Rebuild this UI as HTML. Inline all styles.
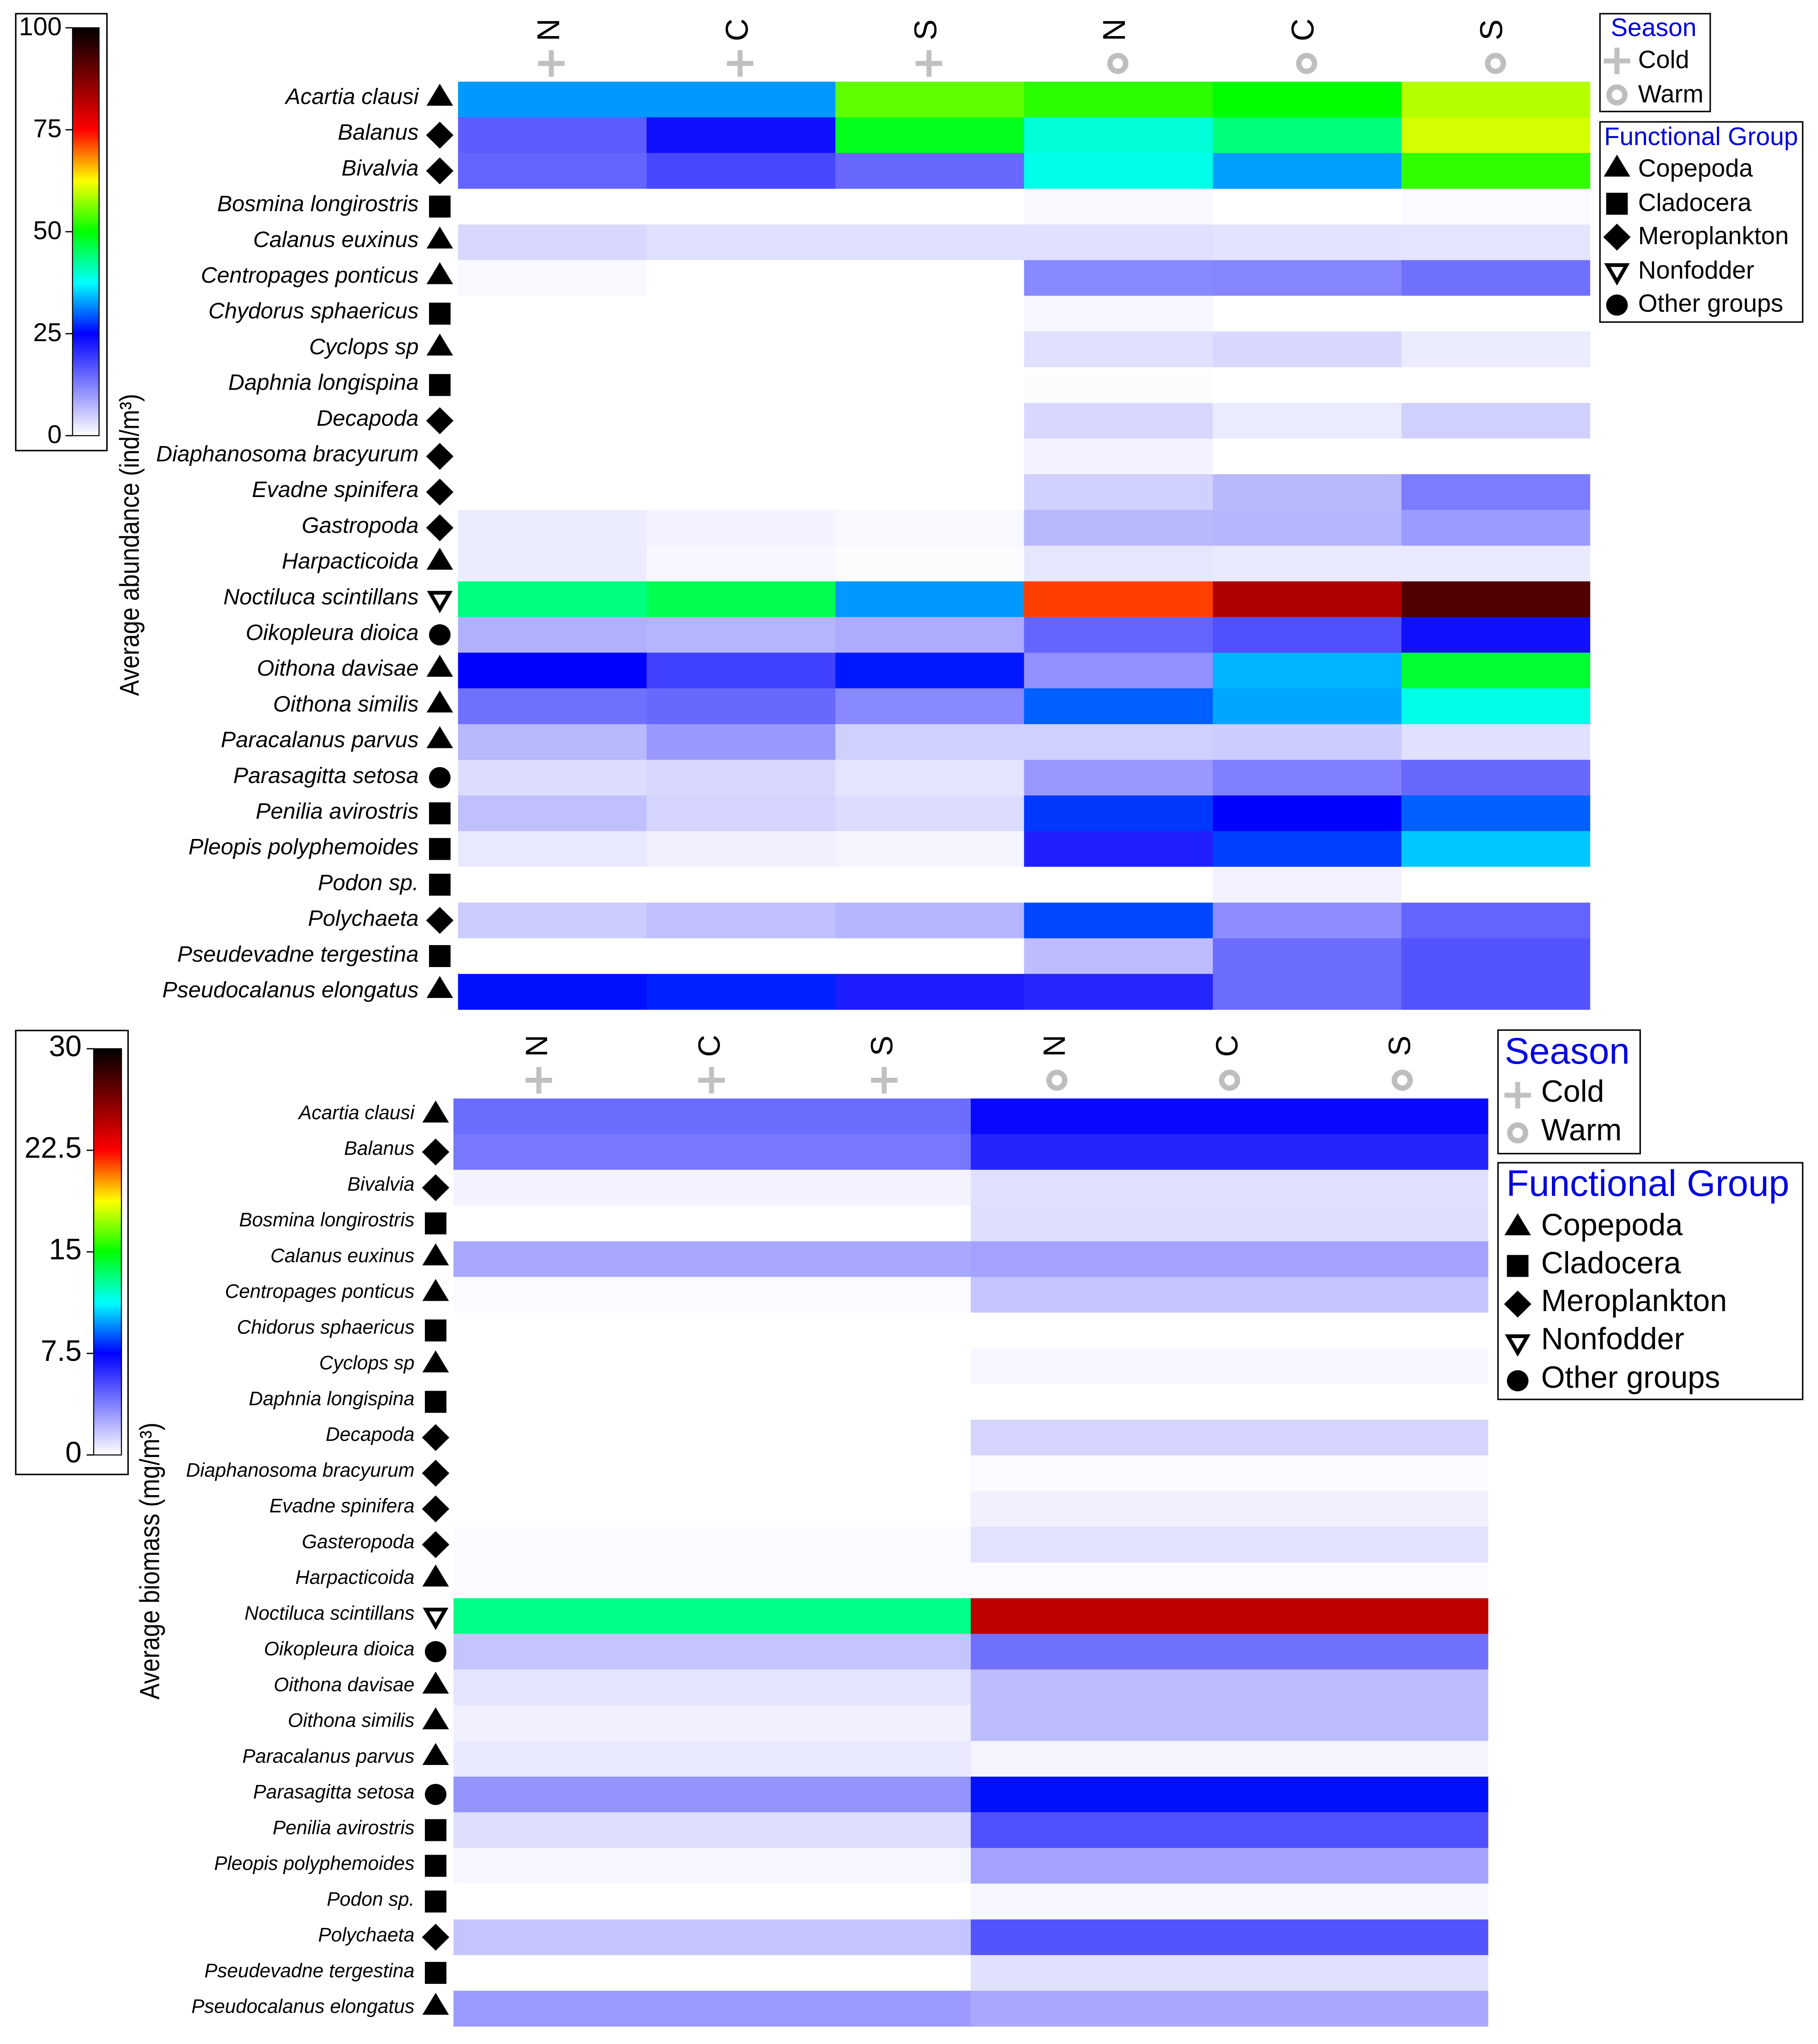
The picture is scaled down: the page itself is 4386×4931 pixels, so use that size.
<!DOCTYPE html>
<html lang="en">
<head>
<meta charset="utf-8">
<title>Zooplankton abundance and biomass heatmaps</title>
<style>
html,body{margin:0;padding:0;background:#fff;}
svg{display:block;font-family:"Liberation Sans",Arial,sans-serif;}
</style>
</head>
<body>
<svg id="figure" xmlns="http://www.w3.org/2000/svg" width="4386" height="4931" viewBox="0 0 4386 4931">
<rect x="0" y="0" width="4386" height="4931" fill="#fff"/>
</svg>
<script>
// ---------- categories ----------
var abundanceSpecies = ["Acartia clausi","Balanus","Bivalvia","Bosmina longirostris","Calanus euxinus","Centropages ponticus","Chydorus sphaericus","Cyclops sp","Daphnia longispina","Decapoda","Diaphanosoma bracyurum","Evadne spinifera","Gastropoda","Harpacticoida","Noctiluca scintillans","Oikopleura dioica","Oithona davisae","Oithona similis","Paracalanus parvus","Parasagitta setosa","Penilia avirostris","Pleopis polyphemoides","Podon sp.","Polychaeta","Pseudevadne tergestina","Pseudocalanus elongatus"];
var biomassSpecies = ["Acartia clausi","Balanus","Bivalvia","Bosmina longirostris","Calanus euxinus","Centropages ponticus","Chidorus sphaericus","Cyclops sp","Daphnia longispina","Decapoda","Diaphanosoma bracyurum","Evadne spinifera","Gasteropoda","Harpacticoida","Noctiluca scintillans","Oikopleura dioica","Oithona davisae","Oithona similis","Paracalanus parvus","Parasagitta setosa","Penilia avirostris","Pleopis polyphemoides","Podon sp.","Polychaeta","Pseudevadne tergestina","Pseudocalanus elongatus"];
var speciesGroups = ["triangle","diamond","diamond","square","triangle","triangle","square","triangle","square","diamond","diamond","diamond","diamond","triangle","nonfodder","circle","triangle","triangle","triangle","circle","square","square","square","diamond","square","triangle"];
var regionLabels = ["N","C","S","N","C","S"];
var seasonMarkers = ["plus","plus","plus","ring","ring","ring"];

// ---------- abundance series (ind/m3), one array per column ----------
var abundanceColdN = [32.5,16,15.2,0,3.8,0.7,0,0,0,0,0,0,1.9,1.9,43.8,7.7,25,14,7,3.4,6.2,2.3,0,5,0,25.8];
var abundanceColdC = [32.5,23.4,17.9,0,3,0,0,0,0,0,0,0,1.2,0.8,46.1,7.4,18.7,14.8,10.1,3.8,4.2,1.5,0,6.2,0,26.6];
var abundanceColdS = [54.7,48.7,14.8,0,3,0,0,0,0,0,0,0,0.7,0.3,32.5,8.1,26.2,11.7,4.6,2.6,3.4,1.1,0,7.4,0,22.3];
var abundanceWarmN = [52,39.4,38.6,0.7,3,11.7,0.8,3,0.3,3.8,1.2,4.6,7,2.5,71.9,15.2,10.9,29.7,4.6,10.1,27.7,21.9,0,28.5,6.6,21.3];
var abundanceWarmC = [50,44.1,32.8,0,2.7,12,0,3.8,0,2,0,7,7.2,2.1,82.7,17.2,33.8,33.2,5,12.5,25,28.1,1.2,11.3,14.4,14.4];
var abundanceWarmS = [58.8,60.4,52.4,0.4,2.6,14,0,1.9,0,4.6,0,12.8,9.8,2.1,92.2,23.4,47.6,38.6,3,14.8,29.7,34.8,0,15.2,16.8,16.8];

// ---------- biomass series (mg/m3), one array per season ----------
var biomassCold = [4.32,3.96,0.36,0,2.55,0.12,0,0,0,0,0,0,0.12,0.12,13,1.74,0.78,0.45,0.63,3.15,0.96,0.27,0,1.74,0,2.94];
var biomassWarm = [7.26,6.44,0.9,0.96,2.7,1.74,0,0.24,0,1.26,0.12,0.45,0.84,0.12,24.4,4.2,1.98,1.98,0.33,7.74,5.16,2.7,0.27,5.04,0.9,2.55];

// ---------- colour scale ticks ----------
var abundanceTicks = [0,25,50,75,100];
var abundanceTickLabels = ["0","25","50","75","100"];
var biomassTicks = [0,7.5,15,22.5,30];
var biomassTickLabels = ["0","7.5","15","22.5","30"];

// ---------- colour map and legends ----------
var cmapStops = [0,0.25,0.375,0.5,0.625,0.75,1];
var cmapRed = [255,0,0,0,255,255,0];
var cmapGreen = [255,0,255,255,255,0,0];
var cmapBlue = [255,255,255,0,0,0,0];
var seasonLegendNames = ["Cold","Warm"];
var seasonLegendSymbols = ["plus","ring"];
var groupLegendNames = ["Copepoda","Cladocera","Meroplankton","Nonfodder","Other groups"];
var groupLegendSymbols = ["triangle","square","diamond","nonfodder","circle"];

var svg = document.getElementById("figure");
var NS = "http://www.w3.org/2000/svg";

function el(tag, attrs, parent) {
  var e = document.createElementNS(NS, tag);
  for (var k in attrs) { e.setAttribute(k, attrs[k]); }
  (parent || svg).appendChild(e);
  return e;
}

function colorFor(value, max) {
  var t = Math.max(0, Math.min(1, value / max));
  var i = 0;
  while (i < cmapStops.length - 2 && t > cmapStops[i + 1]) { i++; }
  var f = (t - cmapStops[i]) / (cmapStops[i + 1] - cmapStops[i]);
  var r = Math.round(cmapRed[i] + f * (cmapRed[i + 1] - cmapRed[i]));
  var g = Math.round(cmapGreen[i] + f * (cmapGreen[i + 1] - cmapGreen[i]));
  var b = Math.round(cmapBlue[i] + f * (cmapBlue[i + 1] - cmapBlue[i]));
  return "rgb(" + r + "," + g + "," + b + ")";
}

function drawMarker(type, cx, cy, parent) {
  var m;
  if (type === "triangle") {
    m = el("polygon", {points: cx + "," + (cy - 38) + " " + (cx - 32) + "," + (cy + 15) + " " + (cx + 32) + "," + (cy + 15), fill: "#000"}, parent);
  } else if (type === "square") {
    m = el("rect", {x: cx - 26, y: cy - 26.5, width: 52, height: 53, fill: "#000"}, parent);
  } else if (type === "diamond") {
    m = el("polygon", {points: cx + "," + (cy - 32.5) + " " + (cx + 33) + "," + cy + " " + cx + "," + (cy + 32.5) + " " + (cx - 33) + "," + cy, fill: "#000"}, parent);
  } else if (type === "nonfodder") {
    m = el("polygon", {points: (cx - 23.2) + "," + (cy - 15.5) + " " + (cx + 23.2) + "," + (cy - 15.5) + " " + cx + "," + (cy + 24.9), fill: "#fff", stroke: "#000", "stroke-width": 9}, parent);
  } else if (type === "circle") {
    m = el("ellipse", {cx: cx, cy: cy, rx: 26, ry: 25.5, fill: "#000"}, parent);
  } else if (type === "plus") {
    m = el("path", {d: "M" + (cx - 32) + " " + cy + "H" + (cx + 32) + "M" + cx + " " + (cy - 32) + "V" + (cy + 32), stroke: "#c0c0c0", "stroke-width": 12, fill: "none"}, parent);
  } else {
    m = el("circle", {cx: cx, cy: cy, r: 19, fill: "none", stroke: "#bebebe", "stroke-width": 13}, parent);
  }
  return m;
}

function drawChart(cfg) {
  var g = el("g", {});
  
  

  // axis functions
  function rowY(i) { return cfg.heatTop + i * cfg.rowH; }
  function colX(j) { return cfg.heatLeft + j * cfg.colW; }
  function barY(v) { return cfg.barBottom - (v / cfg.max) * (cfg.barBottom - cfg.barTop); }

  // colour scale box
  var box = el("rect", {x: cfg.boxX, y: cfg.boxY, width: cfg.boxW, height: cfg.boxH, fill: "#fff", stroke: "#000", "stroke-width": 3.5}, g);
  
  

  var defs = el("defs", {}, g);
  var grad = el("linearGradient", {id: cfg.name + "-grad", x1: 0, y1: 1, x2: 0, y2: 0}, defs);
  cmapStops.forEach(function (s) {
    el("stop", {offset: s, "stop-color": colorFor(s * cfg.max, cfg.max)}, grad);
  });

  var bar = el("rect", {x: cfg.barX, y: cfg.barTop, width: cfg.barW, height: cfg.barBottom - cfg.barTop, fill: "url(#" + cfg.name + "-grad)", stroke: "#000", "stroke-width": 2.5}, g);
  
  

  cfg.ticks.forEach(function (t, i) {
    var y = barY(t);
    var line = el("line", {x1: cfg.barX - 17, x2: cfg.barX, y1: y, y2: y, stroke: "#000", "stroke-width": 3}, g);
    
    
    var lab = el("text", {x: cfg.tickRight, y: y + 18, "font-size": cfg.tickFont, "text-anchor": "end", fill: "#000"}, g);
    
    
    lab.textContent = cfg.tickLabels[i];
  });

  // axis title
  var title = el("text", {transform: "translate(" + cfg.titleX + "," + cfg.titleY + ") rotate(-90) scale(1,1.15)", "font-size": cfg.titleFont, fill: "#000"}, g);
  
  
  title.textContent = cfg.title;

  // heatmap cells
  cfg.columns.forEach(function (column, j) {
    column.values.forEach(function (value, i) {
      var cell = el("rect", {x: colX(column.start), y: rowY(i), width: cfg.colW * column.span + 0.5, height: cfg.rowH + 0.5, fill: colorFor(value, cfg.max), "shape-rendering": "crispEdges"}, g);
      
      
    });
  });

  // species labels and group markers
  cfg.species.forEach(function (sp, i) {
    var lab = el("text", {x: cfg.labelRight, y: cfg.labelFirst + i * cfg.labelStep, "font-size": cfg.labelFont, "font-style": "italic", "text-anchor": "end", fill: "#000"}, g);
    
    
    lab.textContent = sp;
    var mk = drawMarker(speciesGroups[i], cfg.markerX, rowY(i) + cfg.rowH / 2, g);
    
    
  });

  // column headers
  regionLabels.forEach(function (r, j) {
    var x = cfg.headBase + j * cfg.headStep;
    var t = el("text", {transform: "translate(" + x + "," + cfg.headY + ") rotate(-90)", "font-size": cfg.headFont, "text-anchor": "middle", fill: "#000"}, g);
    
    
    t.textContent = r;
    var mk = drawMarker(seasonMarkers[j], cfg.seasonBase + j * cfg.seasonStep, cfg.seasonY, g);
    
    
  });

  // season legend
  var sBox = el("rect", {x: cfg.sLegX, y: cfg.sLegY, width: cfg.sLegW, height: cfg.sLegH, fill: "#fff", stroke: "#000", "stroke-width": 3.5}, g);
  
  
  var sTitle = el("text", {x: cfg.sTitleX, y: cfg.sTitleY, "font-size": cfg.legTitleFont, fill: "#0000dd"}, g);
  
  
  sTitle.textContent = "Season";
  seasonLegendNames.forEach(function (n, i) {
    var t = el("text", {x: cfg.legTextX, y: cfg.sBase[i], "font-size": cfg.legFont, fill: "#000"}, g);
    
    
    t.textContent = n;
    var mk = drawMarker(seasonLegendSymbols[i], cfg.legMarkX, cfg.sMark[i], g);
    
    
  });

  // functional group legend
  var fBox = el("rect", {x: cfg.fLegX, y: cfg.fLegY, width: cfg.fLegW, height: cfg.fLegH, fill: "#fff", stroke: "#000", "stroke-width": 3.5}, g);
  
  
  var fTitle = el("text", {x: cfg.fTitleX, y: cfg.fTitleY, "font-size": cfg.legTitleFont, fill: "#0000dd"}, g);
  
  
  fTitle.textContent = "Functional Group";
  groupLegendNames.forEach(function (n, i) {
    var t = el("text", {x: cfg.legTextX, y: cfg.fBase[i], "font-size": cfg.legFont, fill: "#000"}, g);
    
    
    t.textContent = n;
    var mk = drawMarker(groupLegendSymbols[i], cfg.legMarkX, cfg.fMark[i], g);
    
    
  });
}

drawChart({
  name: "abundance", max: 100, species: abundanceSpecies,
  ticks: abundanceTicks, tickLabels: abundanceTickLabels,
  columns: [
    {start: 0, span: 1, values: abundanceColdN},
    {start: 1, span: 1, values: abundanceColdC},
    {start: 2, span: 1, values: abundanceColdS},
    {start: 3, span: 1, values: abundanceWarmN},
    {start: 4, span: 1, values: abundanceWarmC},
    {start: 5, span: 1, values: abundanceWarmS}
  ],
  boxX: 38, boxY: 33, boxW: 220, boxH: 1054,
  barX: 175, barW: 64, barTop: 67, barBottom: 1051,
  tickRight: 149, tickFont: 62,
  title: "Average abundance (ind/m\u00B3)", titleX: 335, titleY: 1679, titleFont: 57.6,
  heatLeft: 1105, heatTop: 197, colW: 455.2, rowH: 86.1,
  labelRight: 1010, labelFirst: 251, labelStep: 86.2, labelFont: 54,
  markerX: 1061,
  headBase: 1349, headStep: 455, headY: 72, headFont: 76,
  seasonBase: 1330, seasonStep: 455.6, seasonY: 153,
  sLegX: 3860, sLegY: 33, sLegW: 266, sLegH: 236,
  sTitleX: 3886, sTitleY: 87, legTitleFont: 61, legFont: 60,
  legTextX: 3952, legMarkX: 3901,
  sBase: [164, 247], sMark: [147, 229],
  fLegX: 3860, fLegY: 294, fLegW: 489, fLegH: 483,
  fTitleX: 3870, fTitleY: 350,
  fBase: [426, 509, 589, 672, 752], fMark: [411, 491.5, 572, 655, 736]
});

drawChart({
  name: "biomass", max: 30, species: biomassSpecies,
  ticks: biomassTicks, tickLabels: biomassTickLabels,
  columns: [
    {start: 0, span: 3, values: biomassCold},
    {start: 3, span: 3, values: biomassWarm}
  ],
  boxX: 38, boxY: 2486, boxW: 271, boxH: 1071,
  barX: 226, barW: 67, barTop: 2530, barBottom: 3510,
  tickRight: 197, tickFont: 71,
  title: "Average biomass (mg/m\u00B3)", titleX: 384, titleY: 4100, titleFont: 58.2,
  heatLeft: 1094, heatTop: 2650, colW: 416, rowH: 86.1,
  labelRight: 1000, labelFirst: 2700, labelStep: 86.24, labelFont: 47,
  markerX: 1051,
  headBase: 1320, headStep: 416.4, headY: 2523, headFont: 74,
  seasonBase: 1300, seasonStep: 416.6, seasonY: 2606,
  sLegX: 3614, sLegY: 2485, sLegW: 343, sLegH: 298,
  sTitleX: 3630, sTitleY: 2566, legTitleFont: 89, legFont: 74,
  legTextX: 3718, legMarkX: 3661.5,
  sBase: [2658, 2751], sMark: [2642, 2733],
  fLegX: 3614, fLegY: 2805, fLegW: 735, fLegH: 571,
  fTitleX: 3634, fTitleY: 2885,
  fBase: [2980, 3072, 3163, 3255, 3348], fMark: [2965, 3054, 3146, 3239, 3331]
});
</script>
</body>
</html>
